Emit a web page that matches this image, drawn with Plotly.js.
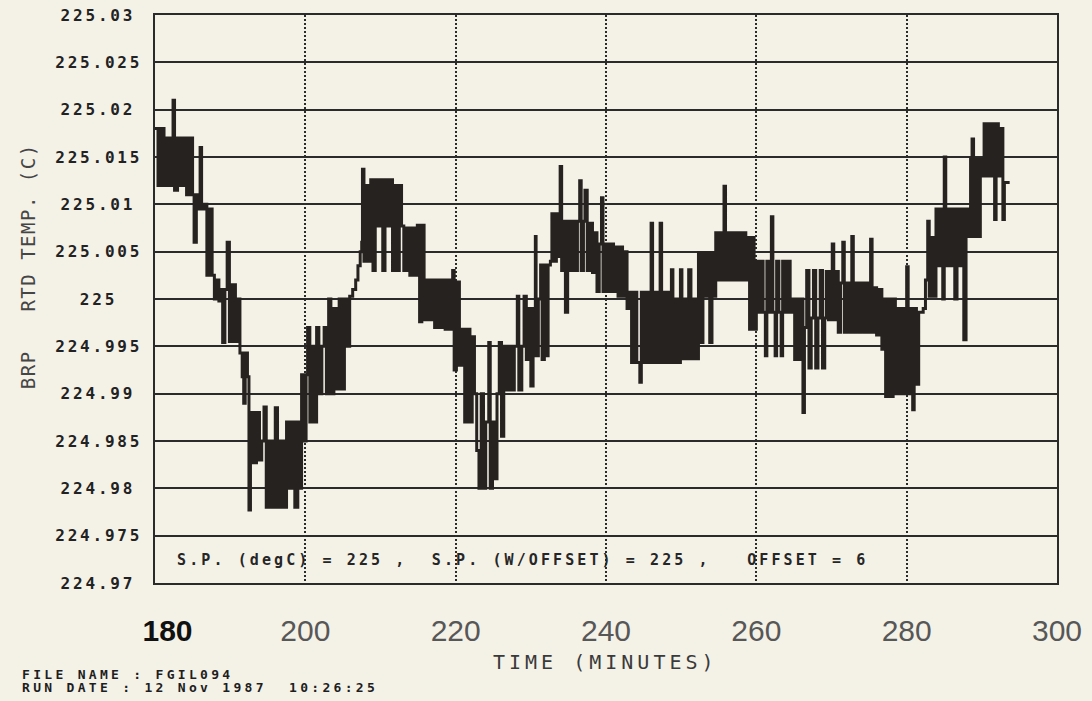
<!DOCTYPE html>
<html>
<head>
<meta charset="utf-8">
<script src="https://cdn.plot.ly/plotly-3.0.1.min.js"></script>
<style>
  html, body { margin: 0; padding: 0; background: #f4f1e7; }
  #chart { width: 1092px; height: 701px; }
</style>
</head>
<body>
<div id="chart"></div>
<script>
// ---- tick labels ----
const xTickVals = [180, 200, 220, 240, 260, 280, 300];
const xTickText = ['180', '200', '220', '240', '260', '280', '300'];
const yTickVals = [224.97, 224.975, 224.98, 224.985, 224.99, 224.995, 225, 225.005, 225.01, 225.015, 225.02, 225.025, 225.03];
const yTickText = ['224.97', '224.975', '224.98', '224.985', '224.99', '224.995', '225', '225.005', '225.01', '225.015', '225.02', '225.025', '225.03'];

// ---- texts ----
const yTitle = 'BRP\u00A0\u00A0\u00A0RTD TEMP. (C)';
const xTitle = 'TIME (MINUTES)';
const noteText = 'S.P. (degC) = 225 ,\u00A0\u00A0S.P. (W/OFFSET) = 225 ,\u00A0\u00A0\u00A0OFFSET = 6';
const fileLine = 'FILE NAME : FGIL094';
const dateLine = 'RUN DATE : 12 Nov 1987\u00A0\u00A010:26:25';

// ---- series: time (minutes) and BRP RTD temperature (deg C) ----
const minutes = [
  180.0,180.4,180.8,181.2,181.6,182.0,182.4,182.6,183.0,183.4,183.8,184.2,184.6,185.0,
  185.2,185.5,185.8,186.0,186.2,
  186.5,186.9,187.3,187.6,
  187.9,188.2,188.5,188.8,189.0,189.3,189.6,
  189.9,190.3,190.7,191.0,
  191.3,191.6,191.8,192.0,192.3,
  192.5,192.7,193.1,193.5,193.9,
  194.2,194.5,194.8,195.2,195.6,196.0,196.3,196.7,197.1,197.5,197.9,198.3,198.6,199.0,199.2,
  199.5,199.8,200.1,
  200.3,200.6,201.0,201.3,201.5,201.8,202.2,202.5,202.8,
  203.1,203.4,203.8,204.1,204.5,204.8,205.2,205.5,205.9,
  206.3,206.7,207.0,207.3,207.5,
  207.6,207.8,208.1,208.4,
  208.7,209.0,209.3,209.6,210.0,210.3,210.6,211.0,211.3,211.6,211.9,
  212.2,212.5,212.8,
  213.1,213.5,213.9,214.3,214.6,
  214.9,215.2,215.5,
  215.8,216.1,216.5,216.8,217.2,217.5,217.9,218.2,218.6,218.9,219.3,219.6,219.8,
  220.1,220.5,
  220.9,221.2,221.6,221.9,222.2,
  222.5,222.8,223.1,223.4,223.7,224.0,224.4,224.6,224.9,225.2,
  225.5,225.8,226.1,226.4,
  226.8,227.1,227.5,227.8,228.2,228.4,228.8,229.1,
  229.4,229.7,230.0,230.3,230.6,230.7,
  231.0,231.3,231.5,231.8,232.1,232.3,
  232.6,232.8,233.1,233.4,233.7,
  233.9,234.1,234.4,234.6,234.9,235.2,235.5,235.9,236.2,236.5,236.7,237.0,237.2,237.5,237.9,238.2,238.5,
  238.8,239.1,239.4,239.6,239.9,240.3,240.6,241.0,241.3,
  241.6,241.9,242.2,242.5,242.8,
  243.1,243.4,243.8,244.1,244.5,244.7,245.0,245.4,245.7,246.0,246.2,246.6,246.9,247.2,247.4,247.8,248.1,248.5,
  248.7,248.9,249.2,249.6,249.9,250.1,250.5,250.8,251.0,251.3,251.7,252.0,
  252.3,252.6,252.9,253.2,253.5,253.8,254.1,254.4,
  254.6,254.9,255.2,255.5,255.7,255.9,256.2,256.5,256.9,257.2,257.6,257.9,258.3,258.6,258.8,259.1,259.4,259.7,
  260.0,260.3,260.6,260.9,261.2,261.4,261.7,262.0,262.2,262.5,262.7,263.0,263.3,263.5,263.8,264.2,264.5,
  264.8,265.1,265.4,265.7,266.0,266.2,266.4,
  266.7,267.0,267.3,267.6,267.9,268.2,268.5,268.8,269.1,
  269.3,269.6,269.9,270.1,270.3,270.6,
  270.9,271.2,271.5,271.7,272.0,272.4,272.7,272.9,273.2,273.6,273.9,274.3,274.6,274.9,275.2,275.4,275.7,276.0,276.4,
  276.7,277.0,277.2,277.5,277.8,277.9,278.2,
  278.5,278.8,279.1,279.4,279.7,280.0,280.2,280.5,280.8,281.0,281.3,
  281.6,282.2,282.5,282.8,283.0,283.3,283.6,
  283.9,284.2,284.5,284.8,285.0,285.2,285.5,285.8,286.1,286.4,286.7,287.0,287.3,287.6,287.9,
  288.2,288.5,288.7,288.9,289.2,289.5,289.8,
  290.0,290.3,290.6,290.9,291.2,291.5,291.7,291.9,292.2,292.5,292.8,293.0,293.7
];
const tempC = [
  225.018,225.012,225.018,225.012,225.017,225.012,225.021,225.0115,225.017,225.012,225.017,225.011,225.017,225.011,
  225.006,225.011,225.0095,225.016,225.0095,
  225.010,225.0025,225.0095,225.0025,
  225.000,225.002,224.9998,225.001,224.9954,225.001,225.006,
  224.9955,225.0015,224.9955,225.000,
  224.9943,224.9918,224.989,224.9943,224.9918,
  224.9777,224.988,224.9827,224.988,224.983,
  224.985,224.9886,224.978,224.985,224.978,224.9885,224.978,224.985,224.978,224.987,224.980,224.987,224.978,224.987,224.980,
  224.992,224.985,224.992,
  224.997,224.987,224.995,224.987,224.997,224.990,224.995,224.997,224.990,
  225.000,224.990,224.999,224.9905,225.000,224.9905,225.000,224.995,225.0003,
  225.001,225.002,225.0035,225.005,225.006,
  225.0137,225.004,225.012,225.004,
  225.0126,225.003,225.0126,225.0077,225.0126,225.003,225.0126,225.0077,225.0126,225.003,225.012,
  225.003,225.012,225.0077,
  225.003,225.0075,225.0025,225.0075,225.0025,
  225.0078,224.9976,225.0078,
  224.9978,225.002,224.9978,225.002,224.997,225.002,224.997,225.002,224.9968,225.002,224.9968,225.003,224.9925,
  225.0018,224.993,
  224.9968,224.987,224.9968,224.987,224.996,
  224.990,224.984,224.980,224.990,224.980,224.987,224.9954,224.980,224.987,224.981,
  224.990,224.9954,224.9855,224.995,
  224.9904,224.995,224.9904,224.995,225.0003,224.9904,224.995,225.0003,
  224.9936,224.999,224.9908,224.999,225.0066,224.994,
  225.000,225.0036,224.9936,225.0036,224.994,225.0036,
  225.004,225.009,225.004,225.009,225.0045,
  225.014,225.003,225.0082,224.9986,225.0082,225.003,225.0082,225.003,225.0082,225.0125,225.003,225.0082,225.0115,225.003,225.008,225.0028,225.007,
  225.0008,225.0058,225.0107,225.0008,225.0058,225.0008,225.0058,225.0008,225.0055,
  225.0003,225.0055,225.0003,225.005,224.999,
  225.0007,224.9933,225.0007,224.9933,224.9912,225.0007,224.9933,225.0007,224.9933,225.008,224.9933,225.0007,224.9933,225.008,224.9933,225.0007,224.9933,225.0007,
  225.0031,224.9933,225.000,224.9933,225.0031,224.9937,225.000,224.9937,225.0031,224.9937,225.000,224.9937,
  225.0049,224.9954,225.0049,225.0003,225.0049,224.9954,225.0049,225.0003,
  225.007,225.002,225.007,225.002,225.0119,225.002,225.007,225.002,225.007,225.002,225.007,225.002,225.007,225.002,225.0065,224.9968,225.0065,224.9968,
  225.004,224.9986,225.004,224.9986,224.994,225.004,224.9986,225.0087,224.9986,224.994,225.004,224.9986,224.994,225.004,224.9986,225.004,224.9986,
  225.000,224.9936,225.000,224.9936,225.000,224.988,224.997,
  225.003,224.9927,224.998,225.003,224.9927,224.998,225.003,224.9927,224.998,
  225.0029,224.9978,225.0029,225.0058,224.9978,225.0029,
  224.9965,225.0017,225.006,224.9965,225.0017,224.9965,225.0066,224.9965,225.0017,224.9965,225.0017,224.9965,225.0017,224.9965,225.0063,224.9965,225.0012,224.9962,225.001,
  224.9947,225.000,224.9897,225.000,224.9947,224.9897,225.000,
  224.990,224.999,224.990,224.999,224.990,225.0034,224.990,224.999,224.9883,224.999,224.991,
  224.9986,224.999,225.002,225.0082,225.0003,225.0065,225.0003,
  225.0095,225.0035,225.0095,225.000,225.015,225.0035,225.0095,225.0035,225.0095,225.000,225.0095,225.0035,225.0095,224.9957,225.0095,
  225.0066,225.0148,225.0169,225.0066,225.0148,225.0066,225.0148,
  225.013,225.0185,225.013,225.0185,225.013,225.0185,225.0084,225.0185,225.013,225.018,225.0084,225.0123,225.0123
];

// ---- styling ----
const BG = '#f4f1e7';
const INK = '#262220';
const GRID = '#2b2b2b';

const plotL = 155, plotR = 1057, plotT = 15, plotB = 583;
const W = 1092, H = 701;
const pw = plotR - plotL, ph = plotB - plotT;
function px2paperX(px) { return (px - plotL) / pw; }
function px2paperY(py) { return (plotB - py) / ph; }

const annotations = [];
const spacing = [];

// y tick labels (centred, plotter style)
yTickVals.forEach(function (v, i) {
  annotations.push({
    xref: 'paper', x: px2paperX(98), xanchor: 'center',
    yref: 'y', y: v, yanchor: 'middle',
    text: yTickText[i], showarrow: false,
    font: { family: 'DejaVu Sans Mono', size: 16, color: '#222', weight: 'bold' }
  });
  spacing.push(2.8);
});

// y-axis title
annotations.push({
  xref: 'paper', x: px2paperX(28), xanchor: 'center',
  yref: 'paper', y: px2paperY(266), yanchor: 'middle',
  text: yTitle, textangle: -90, showarrow: false,
  font: { family: 'DejaVu Sans Mono', size: 19, color: '#454545' }
});
spacing.push(1.5);

// x-axis title
annotations.push({
  xref: 'paper', x: px2paperX(605), xanchor: 'center',
  yref: 'paper', y: px2paperY(662), yanchor: 'middle',
  text: xTitle, showarrow: false,
  font: { family: 'DejaVu Sans Mono', size: 20, color: '#3a3a3a' }
});
spacing.push(4);

// in-plot set point note
annotations.push({
  xref: 'paper', x: px2paperX(175), xanchor: 'left', align: 'left',
  yref: 'paper', y: px2paperY(560), yanchor: 'middle',
  text: noteText, showarrow: false,
  font: { family: 'DejaVu Sans Mono', size: 15, color: '#262626', weight: 'bold' }
});
spacing.push(3.1);

// file / run date footer
annotations.push({
  xref: 'paper', x: px2paperX(20), xanchor: 'left', align: 'left',
  yref: 'paper', y: px2paperY(674), yanchor: 'middle',
  text: fileLine, showarrow: false,
  font: { family: 'DejaVu Sans Mono', size: 13, color: '#1e1e1e', weight: 'bold' }
});
spacing.push(3.3);
annotations.push({
  xref: 'paper', x: px2paperX(20), xanchor: 'left', align: 'left',
  yref: 'paper', y: px2paperY(687), yanchor: 'middle',
  text: dateLine, showarrow: false,
  font: { family: 'DejaVu Sans Mono', size: 13, color: '#1e1e1e', weight: 'bold' }
});
spacing.push(3.3);

const xTickDisplay = xTickText.map(function (t, i) {
  return i === 0 ? '\u00A0\u00A0\u00A0<span style="color:#111"><b>' + t + '</b></span>' : t;
});

const data = [{
  type: 'scatter',
  mode: 'lines',
  x: minutes,
  y: tempC,
  line: { color: INK, width: 3, shape: 'hv' },
  hoverinfo: 'x+y',
  showlegend: false
}];

const layout = {
  width: W, height: H,
  paper_bgcolor: BG, plot_bgcolor: BG,
  margin: { l: plotL, r: W - plotR, t: plotT, b: H - plotB, pad: 0 },
  showlegend: false,
  xaxis: {
    range: [180, 300], fixedrange: true,
    tickmode: 'array', tickvals: xTickVals, ticktext: xTickDisplay,
    ticks: '', ticklabelstandoff: 20,
    tickfont: { family: 'Liberation Sans, Arial, sans-serif', size: 30, color: '#575757' },
    showgrid: true, gridcolor: GRID, gridwidth: 2, griddash: '2px,2px',
    zeroline: false,
    showline: true, linecolor: GRID, linewidth: 2, mirror: true
  },
  yaxis: {
    range: [224.97, 225.03], fixedrange: true,
    tickmode: 'array', tickvals: yTickVals, showticklabels: false,
    ticks: '',
    showgrid: true, gridcolor: GRID, gridwidth: 2,
    zeroline: false,
    showline: true, linecolor: GRID, linewidth: 2, mirror: true
  },
  annotations: annotations
};

const gd = document.getElementById('chart');
Plotly.newPlot(gd, data, layout, { displayModeBar: false, staticPlot: true }).then(function () {
  gd.querySelectorAll('g.annotation').forEach(function (g) {
    const i = +g.getAttribute('data-index');
    const t = g.querySelector('text.annotation-text');
    if (t && spacing[i]) t.style.letterSpacing = spacing[i] + 'px';
  });
});
</script>
</body>
</html>
